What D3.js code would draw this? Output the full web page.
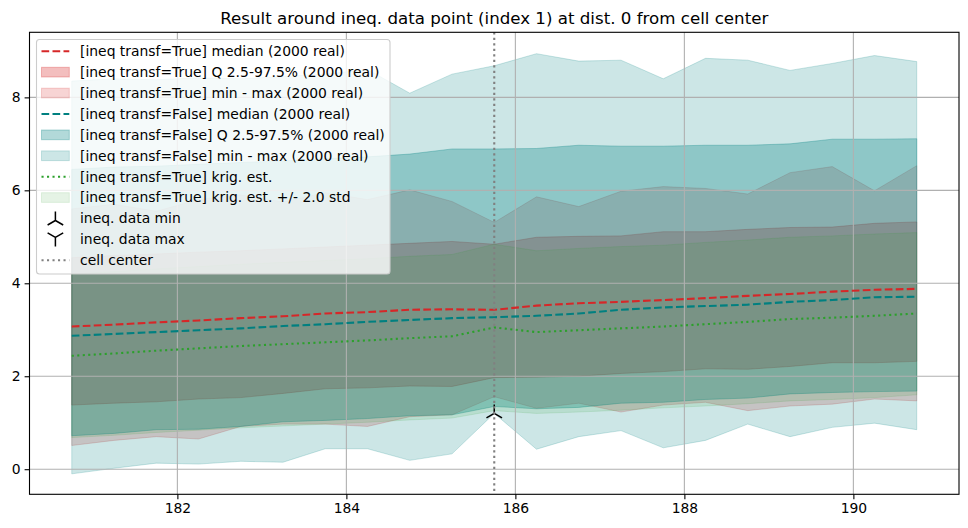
<!DOCTYPE html>
<html>
<head>
<meta charset="utf-8">
<script src="https://cdn.jsdelivr.net/npm/d3@7"></script>
<style>
  html, body { margin: 0; padding: 0; background: #fff; }
  svg { display: block; font-family: "DejaVu Sans", sans-serif; }
</style>
</head>
<body>
<svg id="chart" width="968" height="528"></svg>
<script>
// ---------------- data ----------------
const xs = [180.75, 181.25, 181.75, 182.25, 182.75, 183.25, 183.75, 184.25, 184.75, 185.25,
            185.75, 186.25, 186.75, 187.25, 187.75, 188.25, 188.75, 189.25, 189.75, 190.25, 190.75];

const trueMedian = [3.07, 3.11, 3.16, 3.20, 3.25, 3.29, 3.35, 3.38, 3.43, 3.44, 3.43,
                    3.52, 3.57, 3.60, 3.64, 3.68, 3.73, 3.77, 3.82, 3.86, 3.88];
const trueQLow   = [1.38, 1.42, 1.45, 1.51, 1.54, 1.63, 1.73, 1.75, 1.79, 1.78, 1.97,
                    1.98, 2.00, 2.06, 2.10, 2.16, 2.15, 2.21, 2.29, 2.29, 2.32];
const trueQHigh  = [4.55, 4.60, 4.63, 4.67, 4.70, 4.74, 4.78, 4.82, 4.86, 4.90, 4.84,
                    4.99, 5.01, 5.02, 5.11, 5.11, 5.16, 5.20, 5.21, 5.29, 5.32];
const trueMin    = [0.51, 0.62, 0.70, 0.65, 0.92, 0.97, 0.97, 0.92, 1.13, 1.17, 1.56,
                    1.31, 1.42, 1.23, 1.38, 1.44, 1.26, 1.36, 1.40, 1.51, 1.47];
const trueMax    = [5.60, 5.70, 5.55, 5.80, 5.90, 5.75, 5.95, 5.80, 6.01, 5.76, 5.31,
                    5.86, 5.65, 5.98, 6.08, 6.04, 5.92, 6.38, 6.51, 5.99, 6.53];

const falseMedian = [2.87, 2.91, 2.95, 2.99, 3.03, 3.08, 3.12, 3.17, 3.21, 3.25, 3.27,
                     3.30, 3.35, 3.43, 3.48, 3.51, 3.54, 3.60, 3.64, 3.70, 3.71];
const falseQLow   = [0.72, 0.77, 0.85, 0.86, 0.92, 1.02, 1.05, 1.09, 1.15, 1.17, 1.35,
                     1.30, 1.33, 1.42, 1.44, 1.50, 1.53, 1.62, 1.65, 1.67, 1.68];
const falseQHigh  = [6.45, 6.50, 6.52, 6.56, 6.60, 6.63, 6.68, 6.72, 6.78, 6.89, 6.89,
                     6.90, 6.97, 6.95, 6.95, 6.97, 6.97, 7.00, 7.10, 7.10, 7.11];
const falseMin    = [-0.10, 0.02, 0.13, 0.11, 0.17, 0.15, 0.44, 0.44, 0.19, 0.33, 1.20,
                     0.43, 0.70, 0.83, 0.46, 0.62, 0.97, 0.70, 0.90, 0.99, 0.85];
const falseMax    = [8.35, 8.40, 8.38, 8.42, 8.40, 8.45, 8.50, 8.60, 8.09, 8.50, 8.68,
                     8.94, 8.78, 8.80, 8.40, 8.84, 8.80, 8.58, 8.73, 8.90, 8.77];

const krigEst  = [2.44, 2.49, 2.55, 2.60, 2.65, 2.69, 2.73, 2.77, 2.82, 2.86, 3.05,
                  2.95, 2.99, 3.03, 3.07, 3.12, 3.17, 3.23, 3.26, 3.30, 3.35];
const krigLow  = [0.68, 0.73, 0.79, 0.84, 0.89, 0.93, 0.97, 1.01, 1.06, 1.10, 1.26,
                  1.20, 1.23, 1.27, 1.32, 1.36, 1.41, 1.47, 1.50, 1.54, 1.60];
const krigHigh = [4.20, 4.25, 4.31, 4.36, 4.41, 4.45, 4.49, 4.53, 4.58, 4.62, 4.84,
                  4.70, 4.75, 4.79, 4.82, 4.88, 4.93, 4.99, 5.02, 5.06, 5.09];

const ineqMinX = [185.75];
const ineqMinV = [1.20];
const cellCenter = 185.75;

const xTicks = [182, 184, 186, 188, 190];
const yTicks = [0, 2, 4, 6, 8];

const titleText = "Result around ineq. data point (index 1) at dist. 0 from cell center";
const legendLabels = [
  "[ineq transf=True] median (2000 real)",
  "[ineq transf=True] Q 2.5-97.5% (2000 real)",
  "[ineq transf=True] min - max (2000 real)",
  "[ineq transf=False] median (2000 real)",
  "[ineq transf=False] Q 2.5-97.5% (2000 real)",
  "[ineq transf=False] min - max (2000 real)",
  "[ineq transf=True] krig. est.",
  "[ineq transf=True] krig. est. +/- 2.0 std",
  "ineq. data min",
  "ineq. data max",
  "cell center"
];

// ---------------- styles ----------------
const RED = "#d62728", TEAL = "#008080", GREEN = "#2ca02c", GRAY = "#808080";

// ---------------- layout ----------------
const svg = d3.select("#chart");
const L = 29.5, R = 959, T = 32.3, B = 494.3;
const x = d3.scaleLinear().domain([180.25, 191.25]).range([L, R]);
const y = d3.scaleLinear().domain([-0.54, 9.4]).range([B, T]);

svg.append("rect").attr("width", 968).attr("height", 528).attr("fill", "#fff");

const idx = d3.range(xs.length);
function band(lo, hi, color, alpha) {
  const area = d3.area().x(i => x(xs[i])).y0(i => y(lo[i])).y1(i => y(hi[i]));
  svg.append("path").attr("d", area(idx))
    .attr("fill", color).attr("fill-opacity", alpha)
    .attr("stroke", color).attr("stroke-opacity", alpha).attr("stroke-width", 1);
}
band(trueQLow, trueQHigh, RED, 0.3);
band(trueMin, trueMax, RED, 0.2);
band(falseQLow, falseQHigh, TEAL, 0.3);
band(falseMin, falseMax, TEAL, 0.2);
band(krigLow, krigHigh, GREEN, 0.12);

// grid
const grid = svg.append("g");
xTicks.forEach(t => grid.append("line").attr("x1", x(t)).attr("x2", x(t)).attr("y1", T).attr("y2", B)
  .attr("stroke", "#b0b0b0").attr("stroke-width", 1.1));
yTicks.forEach(t => grid.append("line").attr("x1", L).attr("x2", R).attr("y1", y(t)).attr("y2", y(t))
  .attr("stroke", "#b0b0b0").attr("stroke-width", 1.1));

// lines
function series(vals, color, dash) {
  const line = d3.line().x(i => x(xs[i])).y(i => y(vals[i]));
  svg.append("path").attr("d", line(idx)).attr("fill", "none")
    .attr("stroke", color).attr("stroke-width", 2.1).attr("stroke-dasharray", dash);
}
series(trueMedian, RED, "7.7,3.3");
series(falseMedian, TEAL, "7.7,3.3");
series(krigEst, GREEN, "2.1,3.4");

// tri markers
function triUp(g, cx, cy, r) {
  g.append("path").attr("d",
    `M${cx},${cy}L${cx},${cy - r}M${cx},${cy}L${cx - 0.866 * r},${cy + 0.5 * r}M${cx},${cy}L${cx + 0.866 * r},${cy + 0.5 * r}`)
    .attr("stroke", "#000").attr("stroke-width", 1.5).attr("fill", "none");
}
function triDown(g, cx, cy, r) {
  g.append("path").attr("d",
    `M${cx},${cy}L${cx},${cy + r}M${cx},${cy}L${cx - 0.866 * r},${cy - 0.5 * r}M${cx},${cy}L${cx + 0.866 * r},${cy - 0.5 * r}`)
    .attr("stroke", "#000").attr("stroke-width", 1.5).attr("fill", "none");
}
ineqMinX.forEach((v, i) => triUp(svg, x(v), y(ineqMinV[i]), 9));

// cell center
svg.append("line").attr("x1", x(cellCenter)).attr("x2", x(cellCenter)).attr("y1", T).attr("y2", B)
  .attr("stroke", GRAY).attr("stroke-width", 2.1).attr("stroke-dasharray", "2.1,3.4");

// axes
const xAxis = d3.axisBottom(x).tickValues(xTicks).tickSize(4.9).tickPadding(4).tickFormat(d3.format("d"));
const yAxis = d3.axisLeft(y).tickValues(yTicks).tickSize(4.9).tickPadding(4).tickFormat(d3.format("d"));
const gx = svg.append("g").attr("transform", `translate(0,${B})`).call(xAxis);
const gy = svg.append("g").attr("transform", `translate(${L},0)`).call(yAxis);
[gx, gy].forEach(g => {
  g.select(".domain").remove();
  g.selectAll(".tick line").attr("stroke", "#000").attr("stroke-width", 1.1);
  g.selectAll(".tick text").attr("font-size", "13.9px").attr("fill", "#000")
    .attr("font-family", "DejaVu Sans, sans-serif");
});
svg.append("rect").attr("x", L).attr("y", T).attr("width", R - L).attr("height", B - T)
  .attr("fill", "none").attr("stroke", "#000").attr("stroke-width", 1.1);

// title
svg.append("text").attr("x", (L + R) / 2).attr("y", 24).attr("text-anchor", "middle")
  .attr("font-size", "16.67px").attr("fill", "#000").text(titleText);

// legend
const lg = svg.append("g");
lg.append("rect").attr("x", 36.5).attr("y", 39.5).attr("width", 353.5).attr("height", 234.5)
  .attr("rx", 3).attr("fill", "#fff").attr("fill-opacity", 0.8)
  .attr("stroke", "#cccccc").attr("stroke-width", 1.1);
const rowY = k => 51.3 + k * 20.9;
const hx0 = 41.5, hx1 = 69.3, hxc = 55.4;
function legLine(k, color, dash) {
  lg.append("line").attr("x1", hx0).attr("x2", hx1).attr("y1", rowY(k)).attr("y2", rowY(k))
    .attr("stroke", color).attr("stroke-width", 2.1).attr("stroke-dasharray", dash);
}
function legPatch(k, color, alpha) {
  lg.append("rect").attr("x", hx0).attr("y", rowY(k) - 4.9).attr("width", hx1 - hx0).attr("height", 9.7)
    .attr("fill", color).attr("fill-opacity", alpha)
    .attr("stroke", color).attr("stroke-opacity", alpha).attr("stroke-width", 1);
}
legLine(0, RED, "7.7,3.3");
legPatch(1, RED, 0.3);
legPatch(2, RED, 0.2);
legLine(3, TEAL, "7.7,3.3");
legPatch(4, TEAL, 0.3);
legPatch(5, TEAL, 0.2);
legLine(6, GREEN, "2.1,3.4");
legPatch(7, GREEN, 0.12);
triUp(lg, hxc, rowY(8) + 2, 9);
triDown(lg, hxc, rowY(9) - 2, 9);
legLine(10, GRAY, "2.1,3.4");
legendLabels.forEach((t, k) => {
  lg.append("text").attr("x", 80).attr("y", rowY(k)).attr("dy", "0.35em")
    .attr("font-size", "13.9px").attr("fill", "#000").text(t);
});
</script>
</body>
</html>
